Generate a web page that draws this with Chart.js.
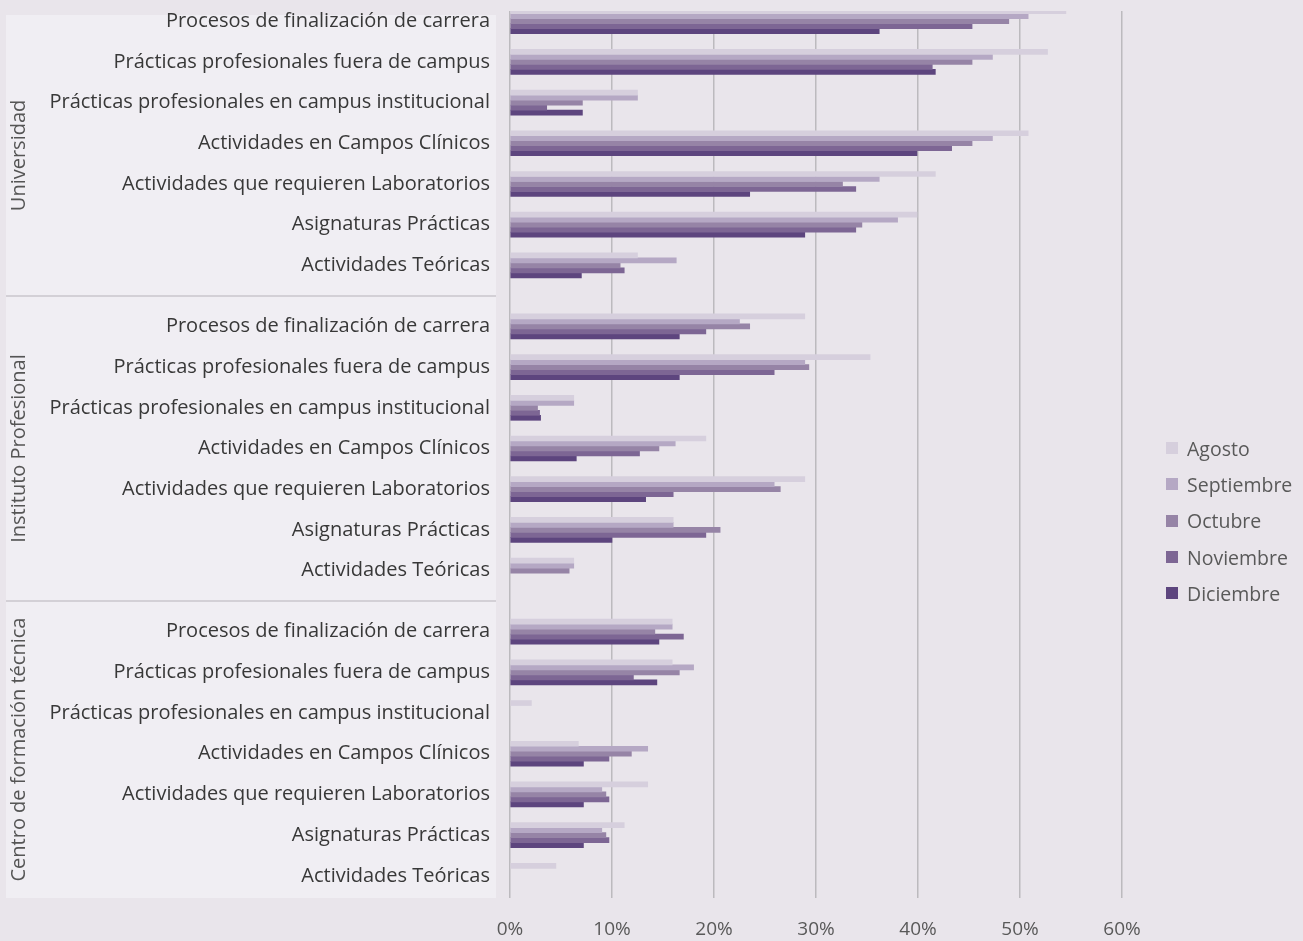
<!DOCTYPE html>
<html>
<head>
<meta charset="utf-8">
<script src="https://cdn.jsdelivr.net/npm/chart.js@4/dist/chart.umd.min.js"></script>
<style>
  html, body { margin: 0; padding: 0; background: #e9e5eb; }
  #wrap { position: relative; width: 1303px; height: 941px; }
  #legend { position: absolute; left: 1166px; top: 430px; font-family: "Open Sans", sans-serif; font-size: 19.5px; color: #595959; }
  #legend div { height: 36.3px; display: flex; align-items: center; }
  #legend span.box { width: 12px; height: 12px; margin-right: 9px; display: inline-block; }
</style>
</head>
<body>
<div id="wrap">
  <canvas id="chart" width="1303" height="941"></canvas>
  <div id="legend"></div>
</div>
<script>
// categories, top to bottom inside each group
const categories = [
    'Procesos de finalización de carrera',
    'Prácticas profesionales fuera de campus',
    'Prácticas profesionales en campus institucional',
    'Actividades en Campos Clínicos',
    'Actividades que requieren Laboratorios',
    'Asignaturas Prácticas',
    'Actividades Teóricas'
];
const groups = ['Universidad', 'Instituto Profesional', 'Centro de formación técnica'];
const months = ['Agosto', 'Septiembre', 'Octubre', 'Noviembre', 'Diciembre'];
const monthColors = ['#d6cfdd', '#b5a8c4', '#9684a6', '#7d6694', '#5d457e'];
const xTicks = [0, 10, 20, 30, 40, 50, 60];

// values in %, one row per month (Agosto .. Diciembre)
const universidad = [
    [54.5, 52.7, 12.5, 50.8, 41.7, 39.9, 12.5],
    [50.8, 47.3, 12.5, 47.3, 36.2, 38.0, 16.3],
    [48.9, 45.3, 7.1, 45.3, 32.6, 34.5, 10.8],
    [45.3, 41.4, 3.6, 43.3, 33.9, 33.9, 11.2],
    [36.2, 41.7, 7.1, 39.9, 23.5, 28.9, 7.0]
];
const institutoProfesional = [
    [28.9, 35.3, 6.25, 19.2, 28.9, 16.0, 6.25],
    [22.5, 28.9, 6.25, 16.2, 25.9, 16.0, 6.25],
    [23.5, 29.3, 2.7, 14.6, 26.5, 20.6, 5.8],
    [19.2, 25.9, 2.9, 12.7, 16.0, 19.2, 0],
    [16.6, 16.6, 3.0, 6.5, 13.3, 10.0, 0]
];
const centroFormacion = [
    [15.9, 15.9, 2.1, 6.7, 13.5, 11.2, 4.5],
    [15.9, 18.0, 0, 13.5, 9.0, 9.0, 0],
    [14.2, 16.6, 0, 11.9, 9.4, 9.4, 0],
    [17.0, 12.1, 0, 9.7, 9.7, 9.7, 0],
    [14.6, 14.4, 0, 7.2, 7.2, 7.2, 0]
];
const groupValues = [universidad, institutoProfesional, centroFormacion];

// build half-slot category axis: blank slot between rows, two blanks between groups
const labels = [];
const rowIndex = []; // [group, category] or null
groups.forEach((g, gi) => {
    categories.forEach((c, ci) => {
        labels.push(c);
        rowIndex.push([gi, ci]);
        if (ci < categories.length - 1) { labels.push(''); rowIndex.push(null); }
    });
    if (gi < groups.length - 1) {
        labels.push('', ''); rowIndex.push(null, null);
    }
});

const datasets = months.map((m, mi) => ({
    label: m,
    // zero values are left empty so no sliver is drawn at the axis
    data: rowIndex.map(r => (r && groupValues[r[0]][mi][r[1]]) ? groupValues[r[0]][mi][r[1]] : null),
    backgroundColor: monthColors[mi],
    borderWidth: 0,
    barThickness: 5
}));

const FONT = '"Open Sans", sans-serif';

// left panel with group names and separators
const panelPlugin = {
    id: 'panel',
    beforeDraw(chart) {
        const ctx = chart.ctx;
        const y = chart.scales.y;
        const area = chart.chartArea;
        const top = area.top + 4, bottom = area.bottom + 12;
        const sep1 = y.getPixelForValue(13.5);
        const sep2 = y.getPixelForValue(28.5);
        ctx.save();
        ctx.fillStyle = '#f0eef3';
        ctx.fillRect(6, top, 490, bottom - top);
        ctx.strokeStyle = '#d3d0d6';
        ctx.lineWidth = 2;
        [sep1, sep2].forEach(s => {
            ctx.beginPath();
            ctx.moveTo(6, s);
            ctx.lineTo(496, s);
            ctx.stroke();
        });
        const bounds = [top, sep1, sep2, bottom];
        ctx.fillStyle = '#555555';
        ctx.font = '20px ' + FONT;
        ctx.textAlign = 'center';
        ctx.textBaseline = 'middle';
        groups.forEach((g, i) => {
            ctx.save();
            ctx.translate(19, (bounds[i] + bounds[i + 1]) / 2);
            ctx.rotate(-Math.PI / 2);
            ctx.fillText(g, 0, 0);
            ctx.restore();
        });
        ctx.restore();
    }
};

new Chart(document.getElementById('chart'), {
    type: 'bar',
    data: { labels: labels, datasets: datasets },
    options: {
        indexAxis: 'y',
        responsive: false,
        animation: false,
        layout: { padding: { top: 11, right: 181, left: 0, bottom: 0 } },
        plugins: { legend: { display: false }, tooltip: { enabled: false } },
        scales: {
            x: {
                min: 0, max: 60,
                afterBuildTicks: s => { s.ticks = xTicks.map(v => ({ value: v })); },
                afterFit: s => { s.height = 55; s.paddingLeft = 0; s.paddingRight = 0; },
                grid: { color: '#bcbabe', lineWidth: 1.5, drawTicks: true, tickLength: 12 },
                border: { display: false },
                ticks: {
                    padding: 20,
                    color: '#595959',
                    font: { family: FONT, size: 19 },
                    callback: v => v + '%'
                }
            },
            y: {
                afterFit: s => { s.width = 510; s.paddingTop = 0; s.paddingBottom = 0; },
                grid: { display: false, drawTicks: false },
                border: { display: false },
                ticks: {
                    autoSkip: false,
                    padding: 20,
                    color: '#383838',
                    font: { family: FONT, size: 20 }
                }
            }
        }
    },
    plugins: [panelPlugin]
});

// legend
const legend = document.getElementById('legend');
months.forEach((m, i) => {
    const row = document.createElement('div');
    row.innerHTML = `<span class="box" style="background:${monthColors[i]}"></span>${m}`;
    legend.appendChild(row);
});
</script>
</body>
</html>
